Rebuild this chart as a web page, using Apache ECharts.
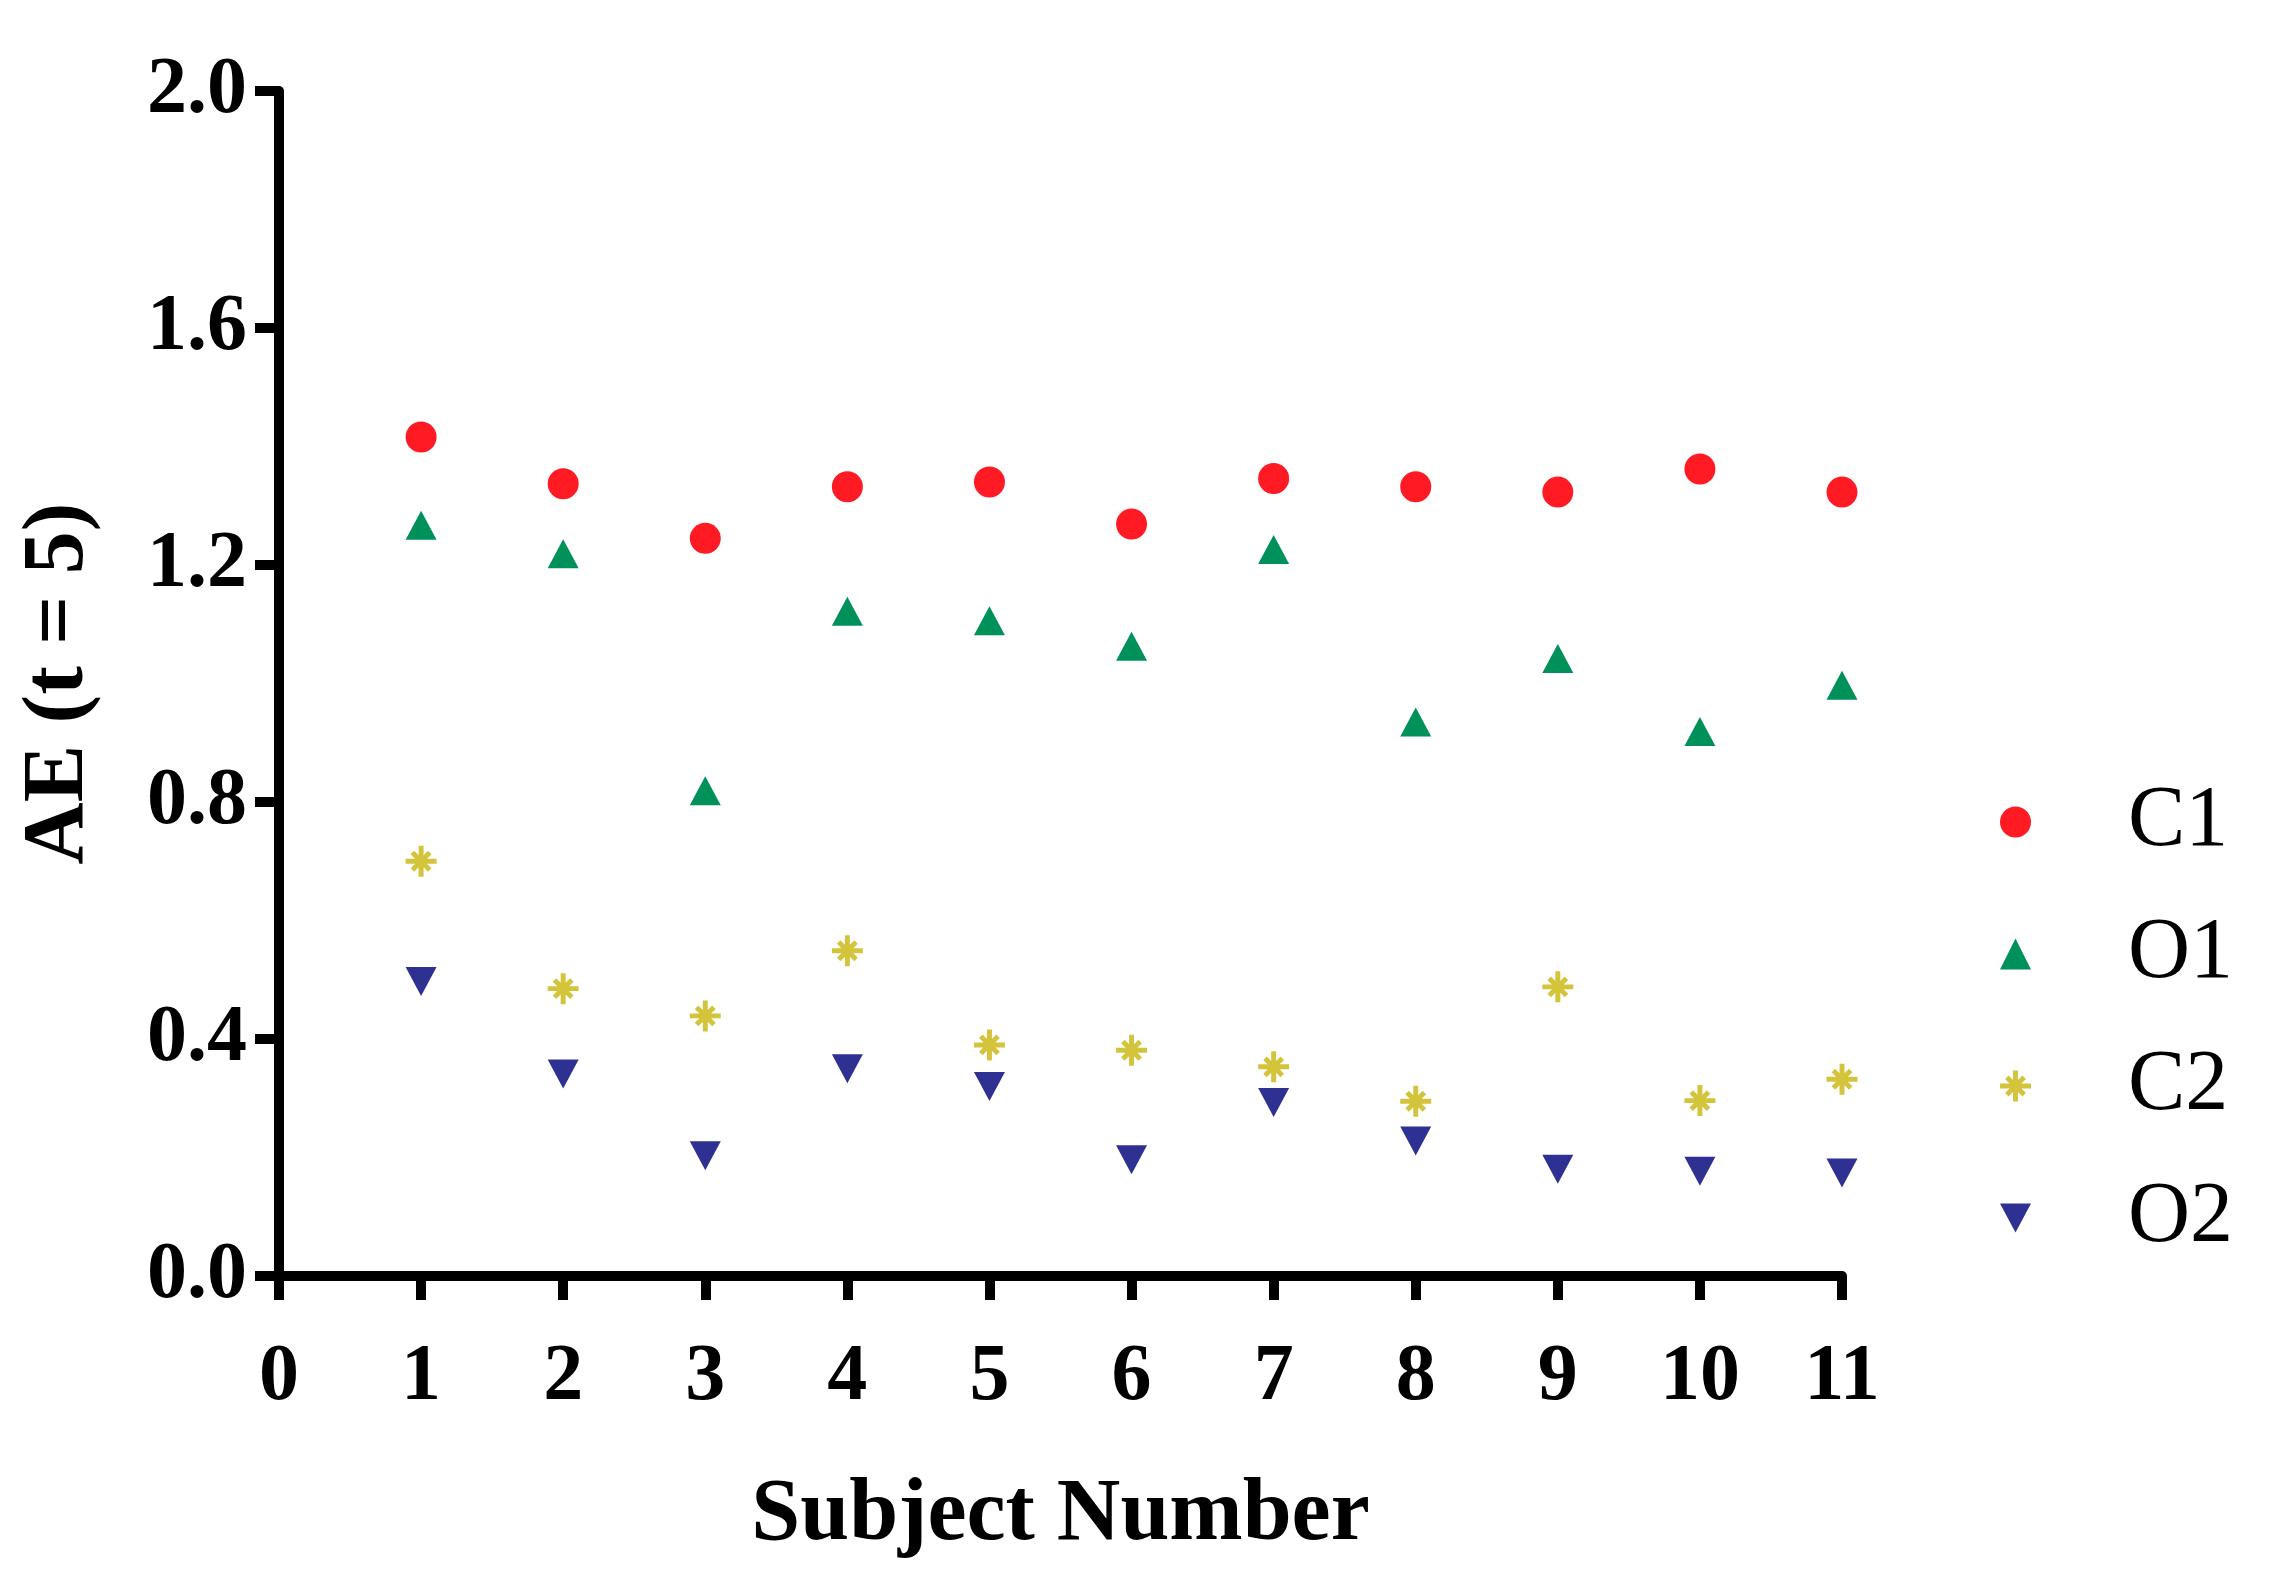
<!DOCTYPE html>
<html>
<head>
<meta charset="utf-8">
<script src="https://cdn.jsdelivr.net/npm/echarts@6/dist/echarts.min.js"></script>
<style>
html,body{margin:0;padding:0;background:#fff;}
#chart{width:2269px;height:1577px;}
</style>
</head>
<body>
<div id="chart"></div>
<script>
// Data
const subjects = [1, 2, 3, 4, 5, 6, 7, 8, 9, 10, 11];
const seriesNames = ['C1', 'O1', 'C2', 'O2'];
const c1 = [1.416, 1.337, 1.245, 1.332, 1.340, 1.269, 1.346, 1.332, 1.323, 1.362, 1.323];
const o1 = [1.267, 1.219, 0.819, 1.122, 1.106, 1.063, 1.226, 0.935, 1.042, 0.919, 0.997];
const c2 = [0.700, 0.485, 0.439, 0.549, 0.390, 0.381, 0.353, 0.295, 0.488, 0.296, 0.332];
const o2 = [0.497, 0.341, 0.203, 0.350, 0.320, 0.196, 0.293, 0.228, 0.180, 0.177, 0.174];
const xTicks = [0, 1, 2, 3, 4, 5, 6, 7, 8, 9, 10, 11];
const yTicks = [0.0, 0.4, 0.8, 1.2, 1.6, 2.0];

const FONT = '"Liberation Serif", "DejaVu Serif", serif';
const colors = ['#FF1A24', '#00915A', '#D4C43C', '#2E3192'];
const downTri = 'path://M0,0 L100,0 L50,93 Z';
const asterisk = 'path://M42,0 L58,0 L58,100 L42,100 Z M0,42 L100,42 L100,58 L0,58 Z ' +
  'M27.66,16.34 L83.66,72.34 L72.34,83.66 L16.34,27.66 Z ' +
  'M83.66,27.66 L27.66,83.66 L16.34,72.34 L72.34,16.34 Z';
const symbols = ['circle', 'triangle', asterisk, downTri];
const sizes = [[31, 31], [31, 29], [31, 31], [31, 29]];
const values = [c1, o1, c2, o2];

const chart = echarts.init(document.getElementById('chart'), null, {renderer: 'canvas'});
const option = {
  backgroundColor: '#ffffff',
  animation: false,
  grid: {left: 279, right: 427, top: 91, bottom: 301, containLabel: false, outerBoundsMode: 'none'},
  legend: {
    orient: 'vertical',
    left: 1995,
    top: 774,
    itemWidth: 31,
    itemHeight: 31,
    itemGap: 46,
    data: seriesNames.map((n, i) => ({name: n, icon: symbols[i]})),
    textStyle: {fontFamily: FONT, fontSize: 86, color: '#000', padding: [0, 0, 0, 92]}
  },
  xAxis: {
    type: 'value', min: xTicks[0], max: xTicks[xTicks.length - 1], interval: 1,
    name: 'Subject Number', nameLocation: 'middle', nameGap: 196,
    nameTextStyle: {fontFamily: FONT, fontSize: 88, fontWeight: 'bold', color: '#000'},
    axisLine: {show: true, onZero: false, lineStyle: {color: '#000', width: 10}},
    axisTick: {show: true, inside: false, length: 24, lineStyle: {color: '#000', width: 10}},
    axisLabel: {fontFamily: FONT, fontSize: 80, fontWeight: 'bold', color: '#000', margin: 62},
    splitLine: {show: false}
  },
  yAxis: {
    type: 'value', min: yTicks[0], max: yTicks[yTicks.length - 1], interval: 0.4,
    name: 'AE (t = 5)', nameLocation: 'middle', nameGap: 176,
    nameTextStyle: {fontFamily: FONT, fontSize: 86, fontWeight: 'bold', color: '#000'},
    axisLine: {show: true, onZero: false, lineStyle: {color: '#000', width: 10}},
    axisTick: {show: true, inside: false, length: 24, lineStyle: {color: '#000', width: 10}},
    axisLabel: {fontFamily: FONT, fontSize: 80, fontWeight: 'bold', color: '#000', margin: 32,
      formatter: v => v.toFixed(1)},
    splitLine: {show: false}
  },
  series: seriesNames.map((n, i) => ({
    name: n,
    type: 'scatter',
    symbol: symbols[i],
    symbolSize: sizes[i],
    itemStyle: {color: colors[i], opacity: 1},
    data: subjects.map((s, j) => [s, values[i][j]])
  }))
};
chart.setOption(option);
</script>
</body>
</html>
